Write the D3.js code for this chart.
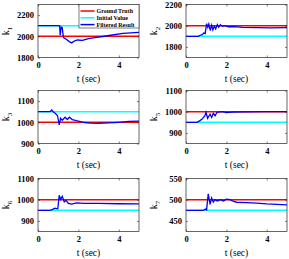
<!DOCTYPE html>
<html>
<head>
<meta charset="utf-8">
<script src="https://cdn.jsdelivr.net/npm/d3@7"></script>
<style>
  body { margin: 0; background: #fff; }
  text { font-family: "Liberation Serif", "Times New Roman", serif; }
</style>
</head>
<body>
<div id="chart"></div>
<script>
// parameter labels (subscripts)
const labels = ["1", "2", "3", "5", "6", "7"];
const groundTruth = [2000, 2000, 1000, 1000, 1000, 500];
const initialValue = [2100, 1900, 1050, 950, 950, 475];
const yDomains = [[1800, 2300], [1700, 2200], [900, 1150], [850, 1100], [850, 1100], [425, 550]];
const yTicks = [[1800, 2000, 2200], [1800, 2000, 2200], [900, 1000, 1100], [900, 1000, 1100], [900, 1000, 1100], [450, 500, 550]];
const xTicks = [0, 2, 4];

// filtered results [t, value]
const filteredK1 = [[0,2100],[1.0,2100],[1.07,2098],[1.1,2010],[1.15,2088],[1.2,2082],[1.26,1988],[1.4,1972],[1.55,1950],[1.67,1938],[1.8,1955],[1.95,1965],[2.2,1962],[2.5,1978],[2.9,1990],[3.2,1998],[3.6,2010],[4.2,2028],[4.6,2033],[5,2037]];
const filteredK2 = [[0,1900],[0.62,1900],[0.7,1910],[0.8,1915],[0.88,1930],[0.95,1925],[1.02,2020],[1.08,1985],[1.13,2015],[1.2,1955],[1.27,2005],[1.33,1960],[1.4,1995],[1.47,1970],[1.55,2010],[1.62,1985],[1.7,2010],[1.8,1995],[1.9,2000],[2.1,1990],[2.4,1992],[2.8,1985],[3.5,1982],[4.2,1980],[5,1982]];
const filteredK3 = [[0,1050],[0.6,1050],[0.68,1058],[0.75,1050],[0.88,1040],[0.97,1030],[1.05,988],[1.12,1019],[1.2,1010],[1.34,1024],[1.45,1013],[1.55,1024],[1.7,1013],[1.9,1008],[2.3,999],[2.6,996],[3.0,995],[3.5,997],[4.0,1000],[4.5,1004],[5,1006]];
const filteredK5 = [[0,950],[0.55,950],[0.69,958],[0.8,965],[0.86,973],[0.93,980],[0.99,997],[1.07,969],[1.19,989],[1.27,973],[1.35,992],[1.44,981],[1.52,995],[1.6,998],[1.8,1000],[2.0,996],[2.3,998],[3,999],[4,1000],[5,1000]];
const filteredK6 = [[0,950],[0.59,950],[0.7,953],[0.84,960],[0.98,957],[1.05,1021],[1.12,1001],[1.2,1016],[1.3,990],[1.39,997],[1.5,983],[1.67,979],[1.9,985],[2.3,983],[3,983],[4,981],[5,980]];
const filteredK7 = [[0,475],[0.86,475],[0.97,478],[1.02,476],[1.1,514],[1.19,489],[1.27,504],[1.35,494],[1.44,500],[1.55,497],[1.7,500],[1.85,497],[2.0,501],[2.18,500],[2.3,497],[2.5,494],[3,493],[3.5,492],[4,490],[4.5,489],[5,488]];
const filtered = [filteredK1, filteredK2, filteredK3, filteredK5, filteredK6, filteredK7];

const legendNames = ["Ground Truth", "Initial Value", "Filtered Result"];
const colors = ["#ff0000", "#00ffff", "#0000ff"];

const W = 289, H = 259;
const colX = [38, 186];
const rowY = [4.5, 90.5, 178.5];
const pw = 101, ph = 53;
const axisColor = "#262626";

const svg = d3.select("#chart").append("svg")
    .attr("width", W)
    .attr("height", H);

labels.forEach((lab, i) => {
    const col = i % 2, row = Math.floor(i / 2);
    const g = svg.append("g")
        .attr("transform", `translate(${colX[col]}, ${rowY[row]})`);

    const x = d3.scaleLinear().domain([0, 5]).range([0, pw]);
    const y = d3.scaleLinear().domain(yDomains[i]).range([ph, 0]);

    g.append("clipPath").attr("id", "clip" + i)
        .append("rect").attr("width", pw).attr("height", ph);

    const plot = g.append("g").attr("clip-path", `url(#clip${i})`);

    // reference lines
    plot.append("line")
        .attr("x1", x(0)).attr("x2", x(5))
        .attr("y1", y(groundTruth[i])).attr("y2", y(groundTruth[i]))
        .attr("stroke", colors[0]).attr("stroke-width", 1.5);
    plot.append("line")
        .attr("x1", x(0)).attr("x2", x(5))
        .attr("y1", y(initialValue[i])).attr("y2", y(initialValue[i]))
        .attr("stroke", colors[1]).attr("stroke-width", 1.5);

    const line = d3.line().x(d => x(d[0])).y(d => y(d[1]));
    plot.append("path")
        .datum(filtered[i])
        .attr("d", line)
        .attr("fill", "none")
        .attr("stroke", colors[2])
        .attr("stroke-width", 1.3);

    // axes: inward ticks on all four sides
    const tick = 2;
    const styleAxis = sel => {
        sel.select(".domain").remove();
        sel.selectAll("line").attr("stroke", axisColor).attr("stroke-width", 0.6);
        sel.selectAll("text")
            .attr("fill", "#000")
            .style("font-size", "8.5px")
            .style("font-weight", "bold");
    };
    g.append("g").attr("transform", `translate(0, ${ph})`)
        .call(d3.axisBottom(x).tickValues(xTicks).tickSize(-tick).tickPadding(4).tickFormat(d3.format("d")))
        .call(styleAxis);
    g.append("g")
        .call(d3.axisTop(x).tickValues(xTicks).tickSize(-tick).tickFormat(""))
        .call(styleAxis);
    g.append("g")
        .call(d3.axisLeft(y).tickValues(yTicks[i]).tickSize(-tick).tickPadding(4).tickFormat(d3.format("d")))
        .call(styleAxis);
    g.append("g").attr("transform", `translate(${pw}, 0)`)
        .call(d3.axisRight(y).tickValues(yTicks[i]).tickSize(-tick).tickFormat(""))
        .call(styleAxis);

    g.append("rect")
        .attr("width", pw).attr("height", ph)
        .attr("fill", "none")
        .attr("stroke", axisColor)
        .attr("stroke-width", 0.7);

    // axis labels
    g.append("text")
        .attr("x", pw / 2)
        .attr("y", ph + 24)
        .attr("text-anchor", "middle")
        .style("font-size", "9.5px")
        .text("t (sec)");

    const yl = g.append("text")
        .attr("transform", `translate(-29, ${ph / 2}) rotate(-90)`)
        .attr("text-anchor", "middle")
        .style("font-size", "10px");
    yl.append("tspan").text("k");
    yl.append("tspan").attr("dy", 2.5).style("font-size", "7px").text(lab);

    // legend on the first panel
    if (i === 0) {
        const lg = g.append("g").attr("transform", `translate(${pw - 60}, 0)`);
        lg.append("rect")
            .attr("width", 60).attr("height", 23.5)
            .attr("fill", "#fff")
            .attr("stroke", axisColor)
            .attr("stroke-width", 0.6);
        legendNames.forEach((name, k) => {
            const yy = 6.5 + k * 6.8;
            lg.append("line")
                .attr("x1", 1.5).attr("x2", 15.5)
                .attr("y1", yy).attr("y2", yy)
                .attr("stroke", colors[k]).attr("stroke-width", 1.5);
            lg.append("text")
                .attr("x", 17.5).attr("y", yy)
                .attr("dy", "0.35em")
                .style("font-size", "6px")
                .style("font-weight", "bold")
                .text(name);
        });
    }
});
</script>
</body>
</html>
